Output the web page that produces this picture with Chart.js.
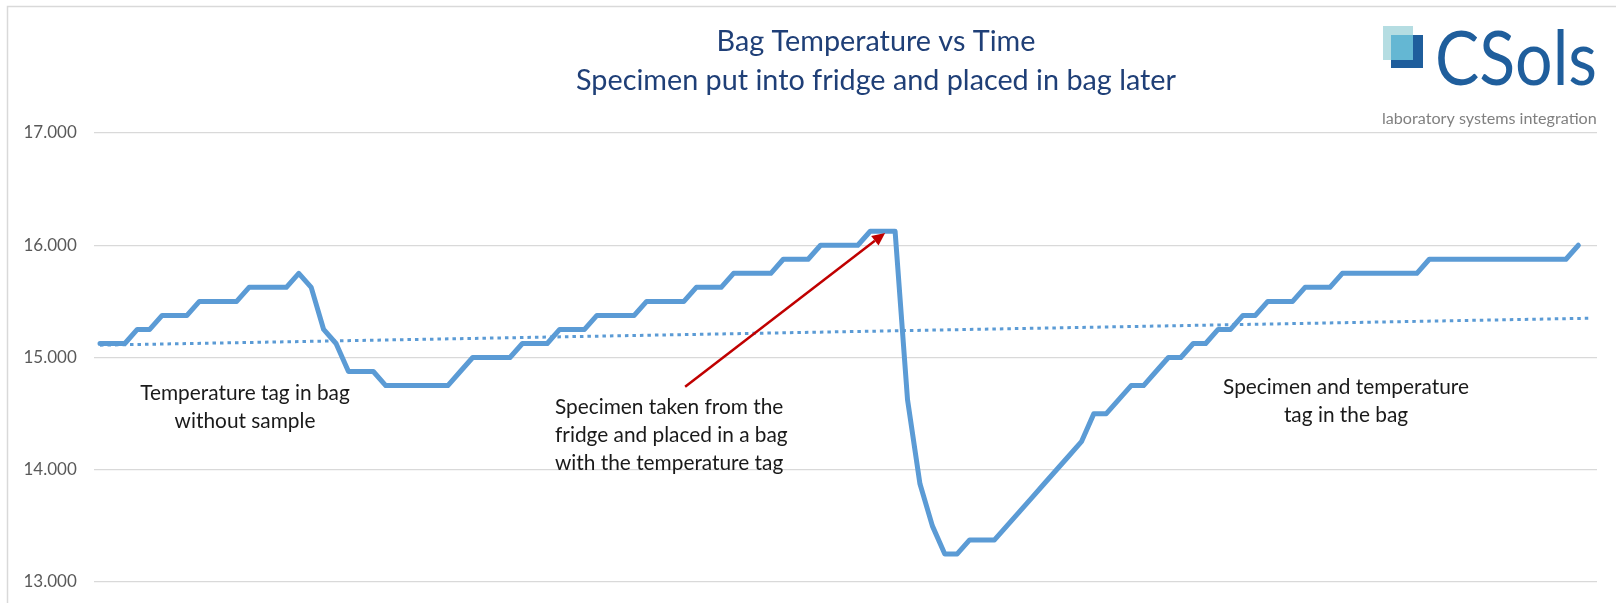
<!DOCTYPE html>
<html>
<head>
<meta charset="utf-8">
<script src="https://cdn.jsdelivr.net/npm/chart.js@4/dist/chart.umd.min.js"></script>
<style>
html,body{margin:0;padding:0;background:#ffffff;}
canvas{display:block;}
</style>
</head>
<body>
<canvas id="c" width="1616" height="603"></canvas>
<script>
// ---- DATA ----
const categories = ["1","2","3","4","5","6","7","8","9","10","11","12","13","14","15","16","17","18","19","20",
"21","22","23","24","25","26","27","28","29","30","31","32","33","34","35","36","37","38","39","40",
"41","42","43","44","45","46","47","48","49","50","51","52","53","54","55","56","57","58","59","60",
"61","62","63","64","65","66","67","68","69","70","71","72","73","74","75","76","77","78","79","80",
"81","82","83","84","85","86","87","88","89","90","91","92","93","94","95","96","97","98","99","100",
"101","102","103","104","105","106","107","108","109","110","111","112","113","114","115","116","117","118","119","120","121"];

const temperature = [
15.125,15.125,15.125,15.25,15.25,15.375,15.375,15.375,15.5,15.5,
15.5,15.5,15.625,15.625,15.625,15.625,15.75,15.625,15.25,15.125,
14.875,14.875,14.875,14.75,14.75,14.75,14.75,14.75,14.75,14.875,
15.0,15.0,15.0,15.0,15.125,15.125,15.125,15.25,15.25,15.25,
15.375,15.375,15.375,15.375,15.5,15.5,15.5,15.5,15.625,15.625,
15.625,15.75,15.75,15.75,15.75,15.875,15.875,15.875,16.0,16.0,
16.0,16.0,16.125,16.125,16.125,14.625,13.875,13.5,13.25,13.25,
13.375,13.375,13.375,13.5,13.625,13.75,13.875,14.0,14.125,14.25,
14.5,14.5,14.625,14.75,14.75,14.875,15.0,15.0,15.125,15.125,
15.25,15.25,15.375,15.375,15.5,15.5,15.5,15.625,15.625,15.625,
15.75,15.75,15.75,15.75,15.75,15.75,15.75,15.875,15.875,15.875,
15.875,15.875,15.875,15.875,15.875,15.875,15.875,15.875,15.875,16.0,
null];

// linear trendline end values
const trendStart = 15.11;
const trendEnd = 15.35;

const yTicks = [13, 14, 15, 16, 17];

const titleLines = ["Bag Temperature vs Time", "Specimen put into fridge and placed in bag later"];
const noteTagOnly = ["Temperature tag in bag", "without sample"];
const noteTaken = ["Specimen taken from the", "fridge and placed in a bag", "with the temperature tag"];
const noteBoth = ["Specimen and temperature", "tag in the bag"];

// ---- HELPERS ----
const FONT = "Lato, 'Open Sans', sans-serif";
function fitSize(ctx, text, weight, target) {
  ctx.font = weight + " 100px " + FONT;
  return 100 * target / ctx.measureText(text).width;
}

const decor = {
  id: 'decor',
  beforeDraw(chart) {
    const ctx = chart.ctx;
    ctx.save();
    ctx.fillStyle = '#ffffff';
    ctx.fillRect(0, 0, chart.width, chart.height);
    ctx.strokeStyle = '#d9d9d9';
    ctx.lineWidth = 1.5;
    ctx.beginPath();
    ctx.moveTo(7.5, chart.height);
    ctx.lineTo(7.5, 6.5);
    ctx.lineTo(chart.width, 6.5);
    ctx.stroke();
    ctx.restore();
  },
  afterDatasetsDraw(chart) {
    const ctx = chart.ctx;
    const xs = chart.scales.x, ys = chart.scales.y;
    // red arrow pointing at the peak before the drop
    const x0 = xs.getPixelForValue(47.1), y0 = ys.getPixelForValue(14.74);
    const x1 = xs.getPixelForValue(63.2), y1 = ys.getPixelForValue(16.11);
    const ang = Math.atan2(y1 - y0, x1 - x0);
    const head = 13, hw = 6;
    ctx.save();
    ctx.strokeStyle = '#c00000';
    ctx.fillStyle = '#c00000';
    ctx.lineWidth = 2.5;
    ctx.beginPath();
    ctx.moveTo(x0, y0);
    ctx.lineTo(x1 - head * Math.cos(ang), y1 - head * Math.sin(ang));
    ctx.stroke();
    ctx.beginPath();
    ctx.moveTo(x1, y1);
    ctx.lineTo(x1 - head * Math.cos(ang) + hw * Math.sin(ang), y1 - head * Math.sin(ang) - hw * Math.cos(ang));
    ctx.lineTo(x1 - head * Math.cos(ang) - hw * Math.sin(ang), y1 - head * Math.sin(ang) + hw * Math.cos(ang));
    ctx.closePath();
    ctx.fill();
    ctx.restore();
  },
  afterDraw(chart) {
    const ctx = chart.ctx;
    ctx.save();
    // title
    const ts = fitSize(ctx, titleLines[1], '400', 600);
    ctx.font = '400 ' + ts + 'px ' + FONT;
    ctx.fillStyle = '#1f3f77';
    ctx.textAlign = 'center';
    ctx.textBaseline = 'alphabetic';
    ctx.fillText(titleLines[0], 876, 51);
    ctx.fillText(titleLines[1], 876, 90);

    // annotations
    const as = fitSize(ctx, noteBoth[0], '400', 246);
    ctx.font = '400 ' + as + 'px ' + FONT;
    ctx.fillStyle = '#1a1a1a';
    ctx.textBaseline = 'middle';
    ctx.textAlign = 'center';
    ctx.fillText(noteTagOnly[0], 245, 393);
    ctx.fillText(noteTagOnly[1], 245, 421);
    ctx.fillText(noteBoth[0], 1346, 387);
    ctx.fillText(noteBoth[1], 1346, 415);
    ctx.textAlign = 'left';
    ctx.fillText(noteTaken[0], 555, 407);
    ctx.fillText(noteTaken[1], 555, 435);
    ctx.fillText(noteTaken[2], 555, 463);

    // logo squares
    ctx.fillStyle = '#b5dde2';
    ctx.fillRect(1383, 26, 30, 34);
    ctx.fillStyle = '#1f5e9c';
    ctx.fillRect(1391, 35, 32, 33);
    ctx.fillStyle = '#64b7d3';
    ctx.fillRect(1391, 35, 22, 25);
    // logo word
    ctx.font = '400 76px ' + FONT;
    const lw = ctx.measureText('CSols').width;
    ctx.textAlign = 'left';
    ctx.textBaseline = 'alphabetic';
    ctx.fillStyle = '#1f5e9c';
    ctx.save();
    ctx.translate(1435, 85);
    ctx.scale(162 / lw, 1);
    ctx.fillText('CSols', 0, 0);
    ctx.restore();
    // tagline
    const tg = fitSize(ctx, 'laboratory systems integration', '400', 215);
    ctx.font = '400 ' + tg + 'px ' + FONT;
    ctx.fillStyle = '#808080';
    ctx.fillText('laboratory systems integration', 1382, 124);
    ctx.restore();
  }
};

new Chart(document.getElementById('c').getContext('2d'), {
  type: 'line',
  data: {
    labels: categories,
    datasets: [
      {
        label: 'Temperature',
        data: temperature,
        borderColor: '#5b9bd5',
        backgroundColor: '#5b9bd5',
        borderWidth: 5,
        pointRadius: 0,
        tension: 0,
        borderJoinStyle: 'round',
        borderCapStyle: 'round',
        fill: false,
        order: 2
      },
      {
        label: 'Linear trend',
        data: [{x: categories[0], y: trendStart}, {x: categories[categories.length - 1], y: trendEnd}],
        borderColor: '#5b9bd5',
        borderWidth: 3,
        borderDash: [3.5, 4],
        borderCapStyle: 'butt',
        pointRadius: 0,
        tension: 0,
        fill: false,
        order: 1
      }
    ]
  },
  options: {
    responsive: false,
    animation: false,
    devicePixelRatio: 1,
    layout: {padding: {left: 0, top: 133, right: 19, bottom: 21}},
    plugins: {legend: {display: false}, tooltip: {enabled: false}, title: {display: false}},
    scales: {
      x: {type: 'category', offset: true, display: false},
      y: {
        min: 13, max: 17,
        afterFit(s) { s.width = 93.8; s.paddingTop = 0; s.paddingBottom = 0; },
        afterBuildTicks(s) { s.ticks = yTicks.map(v => ({value: v})); },
        grid: {color: '#d9d9d9', lineWidth: 1.2, drawTicks: false},
        border: {display: false},
        ticks: {
          padding: 17,
          color: '#595959',
          font: {family: 'Lato', size: 17},
          callback: (v) => Number(v).toFixed(3)
        }
      }
    }
  },
  plugins: [decor]
});
</script>
</body>
</html>
